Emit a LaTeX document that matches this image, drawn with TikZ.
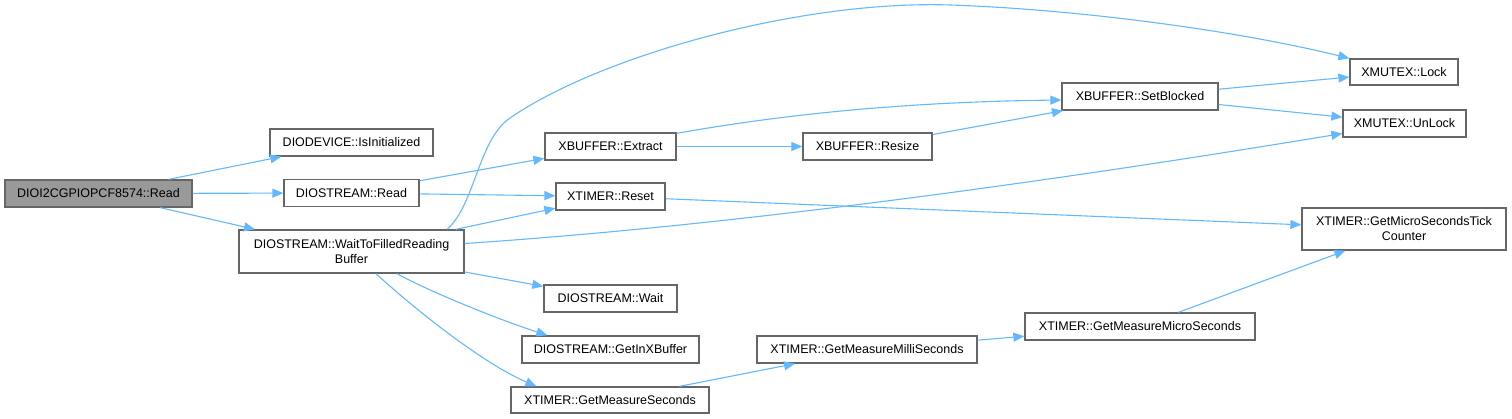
\documentclass[tikz,border=0pt]{standalone}
\usepackage{fontspec}
\setmainfont{Liberation Sans}
\usetikzlibrary{arrows.meta,calc}
\definecolor{edgeblue}{HTML}{63B8FF}
\definecolor{boxgray}{HTML}{666666}
\definecolor{mainfill}{HTML}{999999}
\tikzset{
  fn/.style={draw=boxgray, line width=1.3pt, fill=white, inner sep=0pt,
    minimum height=27pt, align=center,
    font=\fontsize{12.5}{15}\selectfont},
  mainfn/.style={fn, fill=mainfill},
  call/.style={draw=edgeblue, line width=1.1pt,
    -{Triangle[length=11pt,width=9pt]}, fill=none},
}
\begin{document}
\begin{tikzpicture}[x=1pt,y=-1pt]
\useasboundingbox (0,0) rectangle (1512,419);
% nodes
\node[mainfn, minimum width=187pt] (main) at (98.5,193.5) {DIOI2CGPIOPCF8574::Read};
\node[fn, minimum width=163pt] (isinit) at (351.5,142.5) {DIODEVICE::IsInitialized};
\node[fn, minimum width=135pt] (dsread) at (351.5,193) {DIOSTREAM::Read};
\node[fn, minimum width=225pt, minimum height=43pt] (wfill) at (351.5,251.5) {DIOSTREAM::WaitToFilledReading\\Buffer};
\node[fn, minimum width=131pt] (extract) at (610.5,146.5) {XBUFFER::Extract};
\node[fn, minimum width=129pt] (resize) at (867.5,146.5) {XBUFFER::Resize};
\node[fn, minimum width=109pt] (reset) at (610.5,196.5) {XTIMER::Reset};
\node[fn, minimum width=133pt] (dswait) at (610.5,298.5) {DIOSTREAM::Wait};
\node[fn, minimum width=177pt] (getin) at (610.5,349.5) {DIOSTREAM::GetInXBuffer};
\node[fn, minimum width=198pt, minimum height=26pt] (gms) at (610,400) {XTIMER::GetMeasureSeconds};
\node[fn, minimum width=220pt] (milli) at (867,349.5) {XTIMER::GetMeasureMilliSeconds};
\node[fn, minimum width=230pt] (micro) at (1140,326.5) {XTIMER::GetMeasureMicroSeconds};
\node[fn, minimum width=156pt] (setb) at (1140,96.5) {XBUFFER::SetBlocked};
\node[fn, minimum width=108pt, minimum height=26pt] (lock) at (1404,72) {XMUTEX::Lock};
\node[fn, minimum width=123pt] (unlock) at (1404.5,123.5) {XMUTEX::UnLock};
\node[fn, minimum width=204pt, minimum height=42pt] (tick) at (1404,229) {XTIMER::GetMicroSecondsTick\\Counter};
% edges
\draw[call] (main) -- (isinit);
\draw[call] (main) -- (dsread);
\draw[call] (main) -- (wfill);
\draw[call] (dsread) -- (extract);
\draw[call] (dsread) -- (reset);
\draw[call] (wfill) -- (reset);
\draw[call] ($(wfill.north)+(95.5,0)$) .. controls (475,205) and (478,140) .. (510,118)
  .. controls (600,56) and (800,0) .. (950,5)
  .. controls (1070,9) and (1230,29) .. (lock.north west);
\draw[call] ($(wfill.east)+(0,-8)$) .. controls (700,228) and (1000,190) .. ($(unlock.west)+(0,10)$);
\draw[call] (wfill) -- (dswait);
\draw[call] ($(wfill.south)+(45.5,0)$) .. controls (430,292) and (500,320) .. ($(getin.north west)+(26,0)$);
\draw[call] ($(wfill.south)+(24.5,0)$) .. controls (410,305) and (480,362) .. ($(gms.north west)+(26,0)$);
\draw[call] (extract) -- (resize);
\draw[call] ($(extract.north east)+(0,1)$) .. controls (780,115) and (900,102) .. ($(setb.west)+(0,3.5)$);
\draw[call] (resize) -- (setb);
\draw[call] (setb) -- (lock);
\draw[call] (setb) -- (unlock);
\draw[call] (reset) -- (tick);
\draw[call] (gms) -- (milli);
\draw[call] (milli) -- (micro);
\draw[call] (micro) -- (tick);
\end{tikzpicture}
\end{document}
